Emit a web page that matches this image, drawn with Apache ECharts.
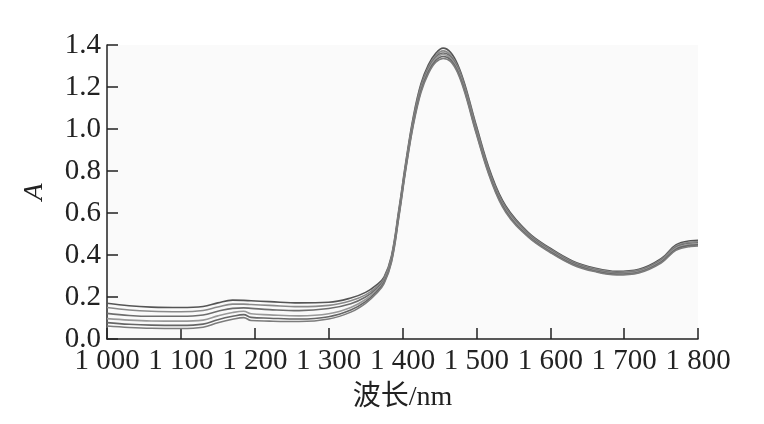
<!DOCTYPE html>
<html>
<head>
<meta charset="utf-8">
<script src="https://cdn.jsdelivr.net/npm/echarts@6/dist/echarts.min.js"></script>
<style>html,body{margin:0;padding:0;background:#fff}#c{width:764px;height:424px}</style>
</head>
<body>
<div id="c"></div>
<script>
const wavelengths = [1000,1030,1060,1100,1130,1150,1170,1185,1195,1220,1260,1300,1330,1350,1365,1375,1385,1395,1405,1415,1425,1435,1445,1455,1465,1475,1485,1500,1520,1540,1570,1600,1630,1660,1690,1720,1750,1770,1790,1800];
const spectrum1 = [0.170,0.158,0.152,0.150,0.155,0.172,0.185,0.184,0.182,0.178,0.172,0.175,0.195,0.222,0.258,0.295,0.395,0.615,0.855,1.065,1.215,1.305,1.360,1.385,1.365,1.305,1.205,1.015,0.785,0.632,0.508,0.432,0.372,0.338,0.322,0.332,0.382,0.448,0.468,0.470];
const spectrum2 = [0.150,0.138,0.132,0.130,0.136,0.152,0.166,0.166,0.164,0.160,0.154,0.160,0.182,0.210,0.248,0.288,0.388,0.605,0.845,1.055,1.205,1.295,1.350,1.372,1.352,1.295,1.195,1.005,0.775,0.625,0.503,0.428,0.368,0.334,0.318,0.328,0.378,0.442,0.462,0.464];
const spectrum3 = [0.122,0.112,0.108,0.108,0.114,0.132,0.146,0.148,0.146,0.140,0.135,0.145,0.168,0.200,0.240,0.282,0.382,0.598,0.838,1.048,1.198,1.288,1.342,1.362,1.345,1.288,1.188,0.998,0.770,0.620,0.498,0.424,0.364,0.330,0.314,0.324,0.374,0.437,0.456,0.458];
const spectrum4 = [0.097,0.090,0.086,0.085,0.090,0.110,0.126,0.132,0.120,0.115,0.110,0.120,0.150,0.188,0.232,0.276,0.376,0.592,0.832,1.040,1.190,1.280,1.335,1.355,1.338,1.280,1.180,0.990,0.764,0.614,0.494,0.420,0.360,0.327,0.311,0.321,0.370,0.432,0.451,0.453];
const spectrum5 = [0.078,0.070,0.066,0.065,0.071,0.092,0.108,0.116,0.103,0.099,0.095,0.106,0.138,0.178,0.225,0.270,0.370,0.585,0.825,1.032,1.182,1.272,1.326,1.345,1.330,1.272,1.172,0.982,0.758,0.608,0.490,0.416,0.357,0.324,0.308,0.318,0.366,0.427,0.446,0.448];
const spectrum6 = [0.062,0.055,0.051,0.050,0.056,0.077,0.094,0.102,0.088,0.085,0.083,0.095,0.128,0.170,0.218,0.264,0.364,0.578,0.818,1.024,1.174,1.264,1.318,1.336,1.322,1.265,1.165,0.976,0.752,0.602,0.486,0.412,0.354,0.321,0.305,0.315,0.362,0.422,0.441,0.443];
const spectra = [spectrum1, spectrum2, spectrum3, spectrum4, spectrum5, spectrum6];
const lineColors = ['#555','#8a8a8a','#6e6e6e','#999','#666','#7c7c7c'];

const font = "'Liberation Serif', 'Times New Roman', serif";
const chart = echarts.init(document.getElementById('c'));
chart.setOption({
  animation: false,
  backgroundColor: '#fff',
  grid: {left: 107, right: 66, top: 45, bottom: 85, show: true, backgroundColor: '#fafafa', borderWidth: 0},
  xAxis: {
    type: 'value', min: 1000, max: 1800, interval: 100,
    name: '波长/nm', nameLocation: 'middle', nameGap: 45,
    nameTextStyle: {fontFamily: "'Liberation Serif', 'Noto Sans CJK SC', serif", fontSize: 28, color: '#222'},
    axisLine: {lineStyle: {color: '#222', width: 1.5}},
    axisTick: {inside: true, length: 11, lineStyle: {color: '#222', width: 1.5}},
    axisLabel: {fontFamily: font, fontSize: 29, color: '#222', margin: 8,
      formatter: v => { const s = String(v); return s.length === 4 ? s[0] + ' ' + s.slice(1) : s; }},
    splitLine: {show: false}
  },
  yAxis: {
    type: 'value', min: 0, max: 1.4, interval: 0.2,
    name: 'A', nameLocation: 'middle', nameGap: 58, nameRotate: 90,
    nameTextStyle: {fontFamily: font, fontSize: 28, fontStyle: 'italic', color: '#222'},
    axisLine: {show: true, lineStyle: {color: '#222', width: 1.5}},
    axisTick: {show: true, inside: true, length: 11, lineStyle: {color: '#222', width: 1.5}},
    axisLabel: {fontFamily: font, fontSize: 29, color: '#222', margin: 6, formatter: v => v.toFixed(1)},
    splitLine: {show: false}
  },
  series: spectra.map((s, i) => ({
    type: 'line', smooth: 0.4, showSymbol: false,
    data: wavelengths.map((w, j) => [w, s[j]]),
    lineStyle: {color: lineColors[i], width: 1.6}
  }))
});
</script>
</body>
</html>
